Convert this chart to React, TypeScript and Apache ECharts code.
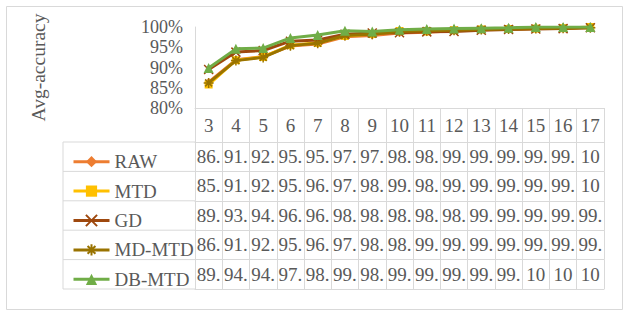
import React, { useEffect, useRef } from "react";
import * as echarts from "echarts";

const categories = ["3", "4", "5", "6", "7", "8", "9", "10", "11", "12", "13", "14", "15", "16", "17"];
const seriesNames = ["RAW", "MTD", "GD", "MD-MTD", "DB-MTD"];
const rawData = [86.4, 91.9, 92.7, 95.3, 95.8, 97.6, 97.9, 98.5, 98.7, 99.1, 99.3, 99.5, 99.6, 99.7, 100];
const mtdData = [85.8, 91.8, 92.6, 95.5, 96.1, 97.8, 98.3, 99.0, 98.9, 99.2, 99.4, 99.5, 99.6, 99.7, 100];
const gdData = [89.5, 93.8, 94.2, 96.5, 96.8, 98.2, 98.5, 98.6, 98.8, 98.9, 99.2, 99.4, 99.5, 99.6, 99.8];
const mdMtdData = [86.2, 91.7, 92.5, 95.4, 96.0, 97.9, 98.2, 98.9, 99.1, 99.2, 99.4, 99.5, 99.6, 99.7, 99.8];
const dbMtdData = [89.9, 94.6, 94.8, 97.3, 98.0, 99.1, 98.9, 99.3, 99.5, 99.6, 99.7, 99.8, 100, 100, 100];
const allData = [rawData, mtdData, gdData, mdMtdData, dbMtdData];
const yTicks = { min: 80, max: 100, interval: 5 };

const colors = ["#ED7D31", "#FFC000", "#9E480E", "#997300", "#70AD47"];
const FONT = "Liberation Serif";
const TXT = "#595959";
const GRIDLINE = "#d9d9d9";

const W = 628;
const H = 315;
const GRID_L = 195;
const GRID_R = 604;
const GRID_T = 27;
const GRID_B = 108;
const HEADER_H = 34;
const ROW_H = 29.4;
const LEG_L = 63;

const cellText = (v: number) => (v >= 100 ? "10" : Math.floor(v) + ".");

export default function App() {
  const ref = useRef<HTMLDivElement>(null);
  useEffect(() => {
    if (!ref.current) return;
    const chart = echarts.init(ref.current, undefined, { renderer: "svg" });

    const symbols = [
      "diamond",
      "rect",
      "path://M0,0L10,10M10,0L0,10",
      "path://M5,0L5,10M0,5L10,5M1.5,1.5L8.5,8.5M8.5,1.5L1.5,8.5",
      "triangle",
    ];
    const symbolSizes = [8, 8, 9, 10, 10];
    const strokeOnly = [false, false, true, true, false];

    const series = seriesNames.map((name, i) => ({
      name,
      type: "line",
      data: allData[i],
      xAxisIndex: 0,
      yAxisIndex: 0,
      symbol: symbols[i],
      symbolSize: symbolSizes[i],
      showAllSymbol: true,
      lineStyle: { color: colors[i], width: 3 },
      itemStyle: strokeOnly[i]
        ? { color: "rgba(0,0,0,0)", borderColor: colors[i], borderWidth: 1.5 }
        : { color: colors[i], borderColor: colors[i], borderWidth: 0 },
      emphasis: { disabled: true },
      z: 2 + i,
    }));

    const tickBase = { show: true, interval: 0, lineStyle: { color: GRIDLINE, width: 1 } };
    const xAxes: any[] = [
      {
        type: "category",
        data: categories,
        position: "bottom",
        offset: 0,
        boundaryGap: true,
        axisLine: { show: true, lineStyle: { color: GRIDLINE, width: 1 } },
        axisTick: { ...tickBase, length: HEADER_H },
        axisLabel: { interval: 0, margin: 8, fontFamily: FONT, fontSize: 19, lineHeight: 19, color: TXT },
        splitLine: { show: false },
      },
    ];
    allData.forEach((d, i) => {
      xAxes.push({
        type: "category",
        data: d.map(cellText),
        position: "bottom",
        offset: HEADER_H + ROW_H * i,
        boundaryGap: true,
        axisLine: { show: true, lineStyle: { color: GRIDLINE, width: 1 } },
        axisTick: { ...tickBase, length: ROW_H },
        axisLabel: { interval: 0, margin: 5, fontFamily: FONT, fontSize: 19, lineHeight: 19, color: TXT },
        splitLine: { show: false },
      });
    });
    xAxes.push({
      type: "category",
      data: categories,
      position: "bottom",
      offset: HEADER_H + ROW_H * allData.length,
      boundaryGap: true,
      axisLine: { show: true, lineStyle: { color: GRIDLINE, width: 1 } },
      axisTick: { show: false },
      axisLabel: { show: false },
      splitLine: { show: false },
    });

    const tableBottom = GRID_B + HEADER_H + ROW_H * allData.length;
    const graphic: any[] = [
      {
        type: "rect",
        shape: { x: 6.5, y: 6.5, width: 616, height: 303 },
        style: { fill: "none", stroke: GRIDLINE, lineWidth: 1 },
        silent: true,
      },
      {
        type: "line",
        shape: { x1: LEG_L, y1: GRID_B + HEADER_H, x2: LEG_L, y2: tableBottom },
        style: { stroke: GRIDLINE, lineWidth: 1 },
        silent: true,
      },
    ];
    for (let i = 0; i <= allData.length; i++) {
      const y = GRID_B + HEADER_H + ROW_H * i;
      graphic.push({
        type: "line",
        shape: { x1: LEG_L, y1: y, x2: GRID_L, y2: y },
        style: { stroke: GRIDLINE, lineWidth: 1 },
        silent: true,
      });
    }

    chart.setOption({
      animation: false,
      backgroundColor: "#ffffff",
      textStyle: { fontFamily: FONT },
      grid: { left: GRID_L, right: W - GRID_R, top: GRID_T, bottom: H - GRID_B, containLabel: false },
      legend: {
        data: seriesNames,
        orient: "vertical",
        left: 67,
        top: GRID_B + HEADER_H + (ROW_H - 19) / 2,
        itemWidth: 36,
        itemHeight: 14,
        itemGap: ROW_H - 19,
        selectedMode: false,
        lineStyle: { width: 3 },
        textStyle: { fontFamily: FONT, fontSize: 19, lineHeight: 19, color: TXT },
      },
      xAxis: xAxes,
      yAxis: {
        type: "value",
        min: yTicks.min,
        max: yTicks.max,
        interval: yTicks.interval,
        name: "Avg-accuracy",
        nameLocation: "middle",
        nameRotate: 90,
        nameGap: 147,
        nameTextStyle: { fontFamily: FONT, fontSize: 19.5, color: TXT },
        axisLine: { show: true, lineStyle: { color: GRIDLINE, width: 1 } },
        axisTick: { show: false },
        splitLine: { show: false },
        axisLabel: { formatter: "{value}%", margin: 12, fontFamily: FONT, fontSize: 18, color: TXT },
      },
      series,
      graphic,
    });
    return () => chart.dispose();
  }, []);
  return <div ref={ref} style={{ position: "absolute", left: 0, top: 0, width: W, height: H }} />;
}
